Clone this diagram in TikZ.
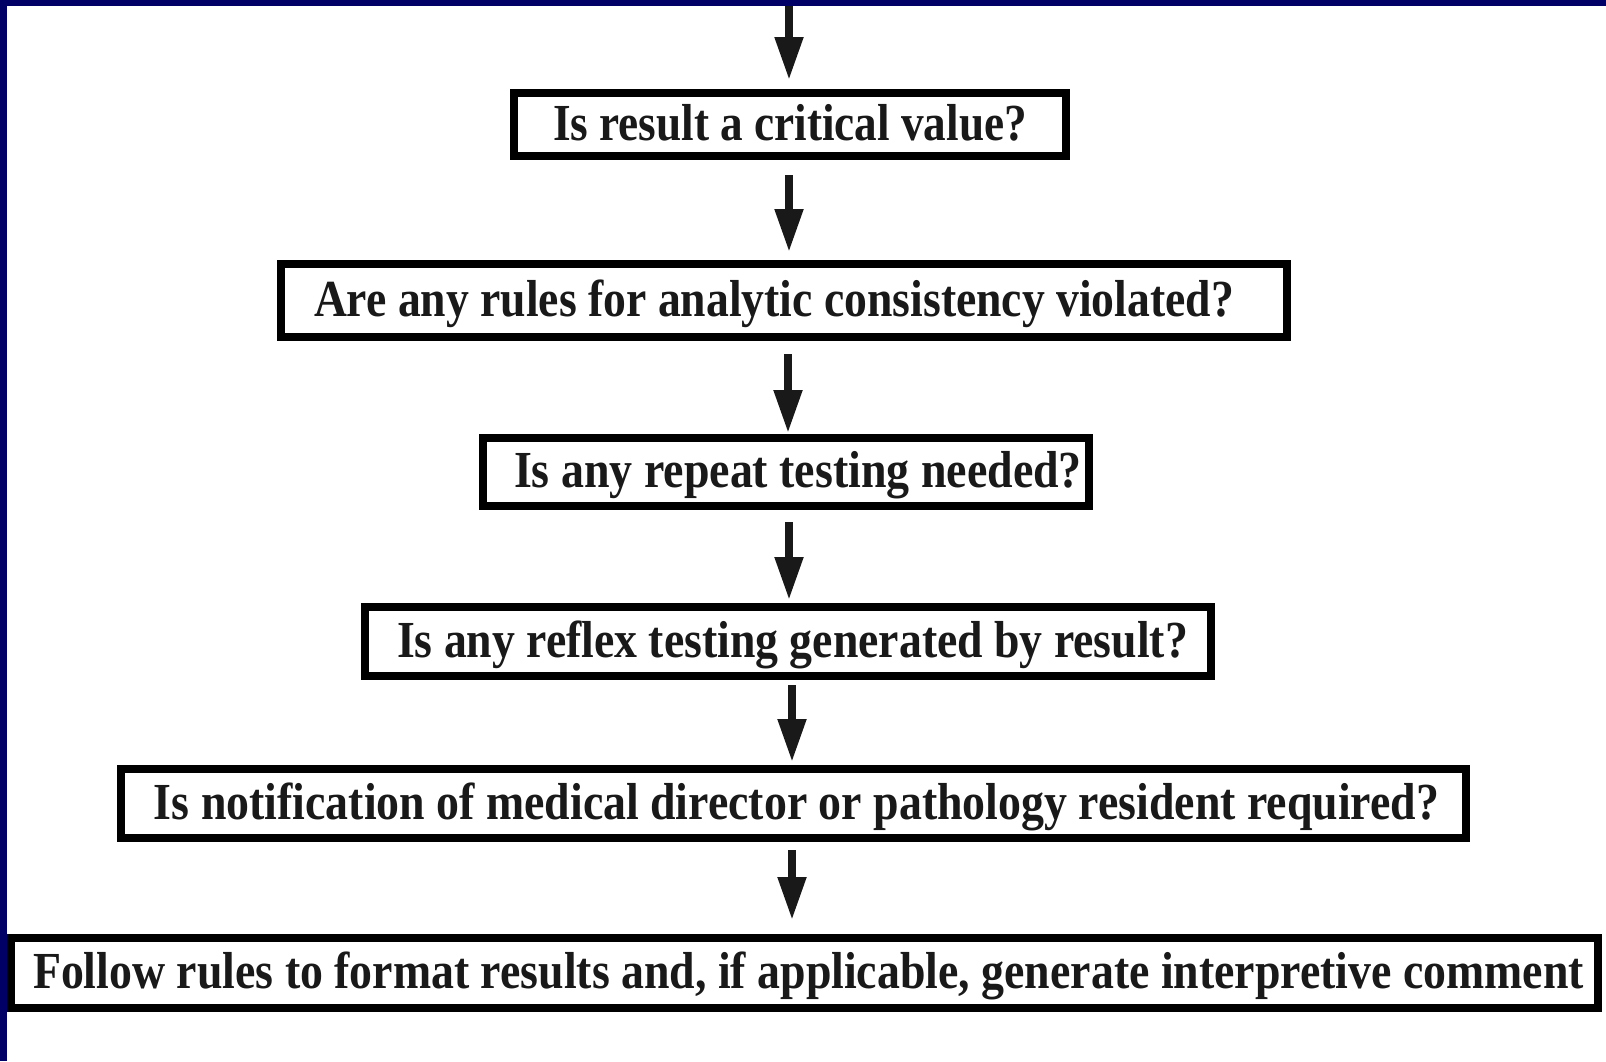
\documentclass[tikz,border=0pt]{standalone}
\usepackage{fontspec}
\usepackage{graphicx}
\setmainfont{Liberation Serif}
\usetikzlibrary{arrows.meta}
\definecolor{navyframe}{RGB}{0,0,102}
\newsavebox\fitbox
\newcommand\fitto[3]{\kern#1pt\sbox\fitbox{#3}\pgfmathsetmacro\fitfac{#2/\wd\fitbox}\scalebox{\fitfac}[1]{\usebox\fitbox}}
\tikzset{
  qbox/.style={draw=black, line width=8pt, fill=white, inner sep=0pt, outer sep=0pt,
    font=\fontsize{52}{60}\selectfont\bfseries, text height=35pt, text depth=4pt, text=black!90},
  flowarrow/.style={draw=black!90, line width=8pt, -{Triangle[width=27pt,length=43pt]}}
}
\begin{document}
\begin{tikzpicture}[x=1pt,y=-1pt]
\useasboundingbox (0,0) rectangle (1606,1061);
\fill[navyframe] (0,0) rectangle (1606,1061);
\fill[white] (7,6) rectangle (1606,1061);

\node[qbox, minimum width=552pt, minimum height=63pt] (n1) at (790,124.5)
  {\fitto{0}{474}{Is result a critical value?}};
\node[qbox, minimum width=1006pt, minimum height=73pt] (n2) at (784,300.5)
  {\fitto{-20}{920}{Are any rules for analytic consistency violated?}};
\node[qbox, minimum width=606pt, minimum height=68pt] (n3) at (786,472)
  {\fitto{24}{568}{Is any repeat testing needed?}};
\node[qbox, minimum width=846pt, minimum height=69pt] (n4) at (788,641.5)
  {\fitto{9}{791}{Is any reflex testing generated by result?}};
\node[qbox, minimum width=1345pt, minimum height=69pt] (n5) at (793.5,803.5)
  {\fitto{6}{1285}{Is notification of medical director or pathology resident required?}};
\node[qbox, minimum width=1587pt, minimum height=70pt] (n6) at (804.5,973)
  {\fitto{8}{1551}{Follow rules to format results and, if applicable, generate interpretive comment}};

\coordinate (top) at (789,6);
\draw[flowarrow, shorten >=13pt] (top) -- (top |- n1.north);
\draw[flowarrow, shorten <=19pt, shorten >=12pt] ([xshift=-1pt]n1.south) -- ([xshift=-1pt]n1.south |- n2.north);
\draw[flowarrow, shorten <=17pt, shorten >=5pt] ([xshift=4pt]n2.south) -- ([xshift=4pt]n2.south |- n3.north);
\draw[flowarrow, shorten <=16pt, shorten >=7pt] ([xshift=3pt]n3.south) -- ([xshift=3pt]n3.south |- n4.north);
\draw[flowarrow, shorten <=9pt, shorten >=7pt] ([xshift=4pt]n4.south) -- ([xshift=4pt]n4.south |- n5.north);
\draw[flowarrow, shorten <=12pt, shorten >=18pt] ([xshift=-1.5pt]n5.south) -- ([xshift=-1.5pt]n5.south |- n6.north);
\end{tikzpicture}
\end{document}
